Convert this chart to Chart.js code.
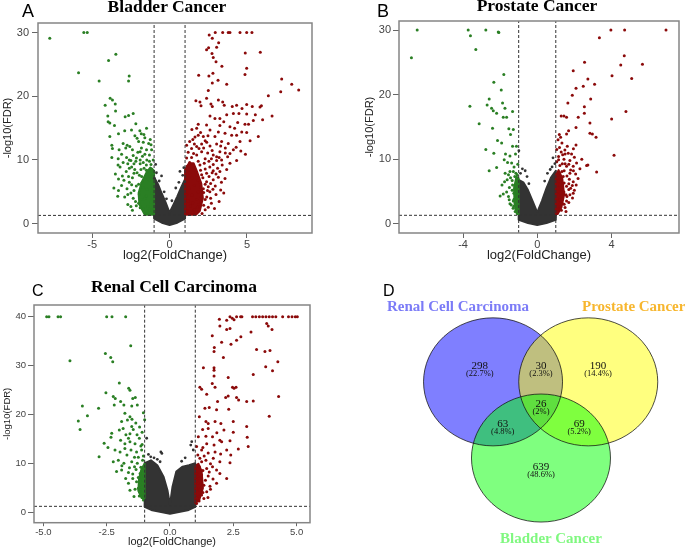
<!DOCTYPE html>
<html>
<head>
<meta charset="utf-8">
<script src="https://cdn.jsdelivr.net/npm/chart.js@4.4.1/dist/chart.umd.min.js"></script>
<style>
  body { margin: 0; width: 685px; height: 547px; position: relative; overflow: hidden; background: #fff; }
  canvas { position: absolute; }
  .letter { position: absolute; line-height: 1; font-family: 'Liberation Sans', Arial, sans-serif; color: #000; }
  .title { position: absolute; line-height: 1; font-family: 'Liberation Serif', 'Times New Roman', serif; font-weight: bold; white-space: nowrap; }
  .center { width: 200px; text-align: center; }
</style>
</head>
<body>
<canvas id="chartA" width="340" height="270" style="left:0;top:0"></canvas>
<canvas id="chartB" width="345" height="270" style="left:340px;top:0"></canvas>
<canvas id="chartC" width="340" height="280" style="left:0;top:270px"></canvas>
<canvas id="chartD" width="325" height="277" style="left:360px;top:270px"></canvas>

<div class="letter" style="left:22px;top:2px;font-size:18px">A</div>
<div class="letter" style="left:377px;top:2px;font-size:18px">B</div>
<div class="letter" style="left:32px;top:283px;font-size:16px">C</div>
<div class="letter" style="left:383px;top:283px;font-size:16px">D</div>

<div class="title center" style="left:67px;top:-2px;font-size:17.5px">Bladder Cancer</div>
<div class="title center" style="left:437px;top:-3px;font-size:17.5px">Prostate Cancer</div>
<div class="title center" style="left:74px;top:278px;font-size:17.5px">Renal Cell Carcinoma</div>

<div class="title center" style="left:358px;top:299px;font-size:15px;color:#7b7bf7">Renal Cell Carcinoma</div>
<div class="title" style="left:582px;top:299px;font-size:15px;color:#f7b62e">Prostate Cancer</div>
<div class="title center" style="left:451px;top:531px;font-size:15px;color:#80f880">Bladder Cancer</div>

<script>
// cut-offs: |log2FC| > 1 and FDR < 0.05
const fcCut = [-1, 1];
const fdrCut = 1.3;

// ---- A: bladder cancer ----
const bladderUp = [
  [2.56,29.6],[2.95,30],[3.43,30],[3.79,30],[3.9,30],[4.55,30],[4.98,30],[5.32,30],
  [2.76,29.1],[3.17,28.4],[2.52,27.6],[3.04,27.7],[2.74,26.7],[2.82,26.1],[2.39,27.3],[4.89,26.8],[5.86,26.9],
  [3.0,25.4],[3.38,24.7],[4.98,24.4],[2.8,23.6],[1.88,23.3],[2.54,23.2],[3.13,22.5],[2.76,22.1],[3.69,21.9],[4.87,23.4],
  [7.24,22.7],[7.89,21.9],[8.34,21.0],[7.18,20.7],[6.38,20.1],[2.5,20.9],[2.39,19.7],[1.7,19.3],[1.96,19.1],[3.15,19.4],[3.43,19.1],
  [2.03,18.5],[2.67,18.8],[2.76,18.4],[3.53,18.6],[4.05,18.4],[4.33,18.6],[4.68,18.1],[4.98,18.7],[5.34,18.4],[5.84,18.3],[5.93,18.5],[6.62,16.9],
  [2.61,16.9],[2.93,16.5],[3.25,16.5],[3.69,17.1],[4.12,17.3],[4.48,17.3],[4.98,17.2],[5.54,17.1],
  [6.01,16.3],[5.41,16.2],[4.87,15.6],[4.4,15.9],[3.9,15.2],[3.25,15.4],[2.61,14.7],[2.39,15.5],[1.85,15.6],[1.75,15.0],[1.44,14.8],
  [4.98,14.3],[4.66,14.4],[4.33,13.9],[4.01,13.9],[3.58,14.2],[3.15,14.4],[2.93,13.7],[2.48,13.8],[2.18,13.7],[1.85,13.9],[1.64,13.6],[5.73,13.7],
  [4.55,12.9],[3.79,12.6],[3.36,12.9],[3.04,12.5],[2.61,12.2],[2.07,12.5],[1.75,12.1],[1.42,11.8],
  [4.12,11.6],[3.9,11.0],[3.6,11.1],[3.25,11.3],[3.04,10.5],[2.82,10.8],[2.46,11.1],[2.07,11.3],[1.75,10.8],[1.42,10.4],[1.1,10.3],
  [4.33,9.9],[3.36,10.0],[3.04,9.9],[2.82,9.3],[2.54,9.8],[2.24,9.5],[1.96,9.2],[1.53,9.0],
  [3.69,8.5],[3.25,8.2],[2.82,8.3],[2.39,7.9],[2.07,7.7],[1.75,7.7],
  [3.58,7.1],[3.15,7.3],[2.82,6.9],[2.39,6.6],[1.96,6.5],
  [2.18,5.5],[2.6,5.0],[3.0,4.6],[2.4,4.2],[2.0,3.5],[2.7,3.2],[1.8,2.6],[2.3,2.2],[1.5,1.8],[2.1,1.6],
  [1.3,12.9],[1.6,12.5],[1.2,11.2],[1.9,11.8],[2.3,10.2],[1.3,9.6],[2.6,8.9],[2.0,8.4],[3.4,9.2],[3.9,9.5],[2.95,5.9],[3.3,5.3],[2.5,5.8],
  [1.15,2.0],[1.35,2.8],[1.6,2.2],[1.9,3.0],[2.2,2.9],[2.5,2.6],[2.9,2.4],[1.2,3.6],[1.5,3.3],[1.75,3.8],[2.05,4.2],[2.3,3.8],
  [2.65,4.0],[3.2,3.5],[1.1,4.6],[1.45,4.5],[1.85,5.0],[2.2,4.9],[2.45,5.2],[2.8,5.4],[3.5,4.8],[1.25,5.6],[1.6,6.0],[2.0,5.8],
  [2.3,6.2],[2.65,6.3],[3.35,6.5],[1.1,6.9],[1.45,7.2],[1.85,6.8],[2.15,7.2],[2.55,7.4],[3.0,7.8],[1.3,8.0],[1.6,8.4],[2.3,8.6],
  [2.75,8.0],[3.1,8.7],[1.15,9.0],[1.85,9.8],[2.7,10.2],[3.2,10.4],[1.55,11.0],[2.2,11.9],[2.75,11.5],[3.6,11.9],[1.1,12.3],
  [2.4,12.8],[3.3,12.2],[1.5,13.2],[2.0,14.3],[2.3,13.0],[4.3,12.0],[4.9,10.9],[4.6,11.4],[3.75,10.5],[5.2,13.0],[4.2,15.0],
  [5.1,15.6],[3.5,16.0]
];
const bladderDown = [
  [-7.74,29.1],[-5.54,30],[-5.32,30],[-5.88,23.7],[-4.55,22.4],[-3.47,26.6],[-3.94,25.6],[-2.61,23.2],[-2.65,22.4],
  [-3.84,19.7],[-3.69,19.4],[-4.16,18.6],[-3.51,18.8],[-3.49,17.7],[-3.99,16.9],[-2.35,17.3],[-2.87,16.8],[-2.65,17.0],
  [-3.97,16.0],[-3.86,15.8],[-3.56,15.4],[-2.18,15.7],[-1.49,15.0],[-2.46,14.7],[-1.92,14.6],[-1.83,14.1],[-1.66,14.0],
  [-3.86,13.7],[-2.24,13.8],[-3.73,12.3],[-3.69,11.8],[-3.0,12.6],[-2.74,12.3],[-3.26,11.6],[-2.83,11.9],[-2.57,12.1],
  [-1.82,11.9],[-1.49,11.6],[-1.16,11.6],[-3.73,10.4],[-3.32,10.2],[-2.78,10.4],[-2.35,10.7],[-2.14,10.3],[-1.9,10.0],
  [-1.47,10.0],[-1.06,10.0],[-3.33,9.2],[-3.2,8.9],[-2.7,9.4],[-2.45,8.9],[-2.18,9.8],[-1.9,9.4],[-1.5,9.2],[-1.2,9.3],
  [-3.5,7.8],[-3.05,7.5],[-2.8,8.2],[-2.4,7.2],[-2.1,8.0],[-1.8,7.4],[-1.4,8.3],[-3.6,5.6],[-3.1,6.0],[-2.9,4.2],
  [-2.6,6.5],[-2.3,5.2],[-2.0,6.2],[-1.7,5.7],[-1.3,6.8],[-1.1,7.5],[-2.7,3.0],[-2.2,3.5],[-1.9,2.5],[-1.6,3.9],
  [-1.3,2.2],[-1.15,4.8],[-1.5,1.6],[-2.4,2.1],
  [-2.05,11.2],[-1.75,10.6],[-1.3,10.8],[-2.5,9.9],[-1.65,8.7],[-2.25,8.5],[-2.95,6.8],[-2.5,4.8],[-3.3,7.0],
  [-1.95,4.6],[-2.15,2.8],[-3.35,4.3],[-1.35,12.6],[-1.25,13.2],[-1.7,12.8],[-2.0,12.9],[-2.1,13.4],
  [-1.15,2.1],[-1.4,2.7],[-1.7,2.3],[-2.0,3.2],[-2.5,2.7],[-1.2,3.4],[-1.5,4.4],[-1.85,3.8],[-2.35,4.0],[-2.7,4.6],
  [-1.1,5.6],[-1.45,5.4],[-1.8,6.4],[-2.15,5.9],[-2.45,6.1],[-2.75,5.5],[-3.3,5.2],[-1.25,7.4],[-1.6,7.0],[-1.95,7.6],
  [-2.3,7.9],[-2.65,7.4],[-1.15,8.6],[-1.5,8.4],[-1.85,8.5],[-2.6,8.7],[-3.0,9.6],[-1.3,9.8],[-1.7,9.6],[-2.3,9.4],
  [-1.6,10.9],[-1.9,11.3],[-2.4,11.6],[-2.6,10.0],[-3.1,10.9],[-1.2,12.4],[-1.6,13.5],[-2.9,14.6],[-3.3,14.1]
];
const bladderGrey = [
  [-0.52,7.5],[0.67,8.2],[0.99,6.6],[-0.99,7.1],[-0.67,6.7],[-0.85,8.0],[0.85,7.6],[0.4,5.6],
  [-0.35,5.0],[0.6,6.5],[-0.2,3.9],[0.15,3.6],[-0.9,9.3],[0.92,8.8]
];
// dense cores of overlapping points, traced as outlines
const bladderGreyMass = [[-1.0,7.3],[-0.75,6.2],[-0.5,4.7],[-0.25,3.3],[-0.05,2.0],[0,1.7],[0.05,2.0],[0.25,3.0],[0.5,4.3],[0.75,5.7],[1.0,7.0],[1.0,0.8],[0.5,0.15],[0,-0.2],[-0.5,0.15],[-1.0,0.8]];
const bladderDownMass = [[-1.0,1.4],[-1.0,8.3],[-1.25,8.8],[-1.5,8.0],[-1.8,6.5],[-2.0,4.8],[-1.95,3.0],[-1.6,1.4]];
const bladderUpMass = [[1.0,1.4],[1.0,8.5],[1.25,9.5],[1.55,9.5],[1.8,8.0],[2.05,6.3],[2.15,4.0],[1.95,2.0],[1.7,1.4]];

// ---- B: prostate cancer ----
const prostateUp = [
  [3.97,30],[4.71,30],[6.94,30],[3.35,28.8],[4.69,26.0],[5.67,24.7],[4.5,24.6],[2.55,25.0],[4.03,22.9],[5.09,22.5],
  [1.94,23.7],[2.73,22.4],[2.48,21.3],[3.09,21.6],[2.09,21.0],[1.89,19.9],[2.88,19.3],[1.65,18.7],[2.54,18.1],[2.54,17.1],
  [4.78,17.4],[1.29,16.7],[1.44,16.7],[1.58,16.5],[2.21,16.5],[4.01,16.2],[2.84,15.6],[2.09,14.9],[1.69,14.4],[1.58,13.9],
  [1.19,13.8],[1.26,13.4],[2.84,14.0],[2.97,13.9],[3.17,13.4],[2.09,12.2],[4.14,10.6],[1.12,13.0],[1.33,12.5],[1.62,12.0],
  [1.49,11.4],[1.29,11.1],[1.67,10.9],[1.85,10.8],[1.15,10.4],[1.37,10.7],[1.44,10.0],[1.76,9.8],[2.12,9.4],[2.66,9.0],
  [2.73,9.1],[3.2,8.0],[1.22,9.0],[1.58,8.9],[1.94,8.9],[1.33,8.1],[1.76,7.8],[2.07,7.7],[1.08,7.1],[1.4,7.3],[1.73,6.9],
  [1.94,6.5],[1.22,6.0],[1.58,5.8],[1.89,5.9],[1.13,5.0],[1.44,4.9],[1.76,4.5],[1.94,4.7],[1.22,3.7],[1.58,3.5],[1.13,2.7],
  [1.37,3.1],[1.08,2.2],[1.2,11.8],[1.5,9.3],[1.7,5.3],[1.3,4.3],[1.5,2.5],[1.1,3.4],[1.8,8.3],[1.05,9.6],
  [1.1,1.8],[1.3,2.1],[1.55,1.9],[1.25,2.6],[1.45,3.0],[1.7,3.3],[1.05,3.9],[1.35,3.8],[1.6,4.2],[1.9,4.0],[1.05,4.6],
  [1.25,4.7],[1.55,4.5],[2.0,5.2],[1.1,5.5],[1.35,5.3],[1.8,5.5],[1.45,6.3],[1.7,6.2],[2.1,6.0],[1.15,6.6],[1.3,7.0],
  [1.6,7.4],[2.2,7.0],[1.2,7.8],[1.45,8.2],[1.95,8.2],[2.3,8.5],[1.35,9.3],[1.7,9.2],[1.15,9.9],[2.0,10.3],[2.4,10.0],
  [1.5,10.8],[1.05,11.5],[1.95,11.6]
];
const prostateDown = [
  [-6.47,30],[-6.78,25.7],[-3.72,30],[-3.6,29.1],[-2.77,30],[-2.1,29.7],[-2.07,29.6],[-3.31,27.0],[-1.8,23.1],[-2.34,21.9],
  [-1.94,20.7],[-2.59,19.3],[-3.63,18.2],[-2.7,18.4],[-2.46,17.9],[-2.37,17.5],[-1.87,18.7],[-1.74,17.9],[-1.33,17.4],
  [-2.19,17.1],[-1.83,16.5],[-1.65,16.5],[-3.13,15.5],[-2.41,14.8],[-1.53,14.7],[-1.29,14.6],[-1.44,13.8],[-2.14,12.9],
  [-1.92,12.5],[-1.33,12.0],[-1.12,12.0],[-2.77,11.5],[-2.34,10.9],[-1.71,10.8],[-1.47,10.5],[-1.17,10.8],[-1.78,9.9],
  [-1.6,9.5],[-1.38,9.4],[-2.19,8.7],[-2.59,8.2],[-1.73,7.8],[-1.47,8.1],[-1.29,8.1],[-1.15,7.8],[-1.76,6.5],[-1.62,6.8],
  [-1.44,7.1],[-1.21,7.3],[-1.08,7.6],[-1.33,6.0],[-1.19,5.8],[-1.04,6.3],[-1.83,4.6],[-1.65,4.9],[-1.26,4.7],[-1.12,5.3],
  [-1.51,3.7],[-1.29,3.5],[-1.08,4.0],[-1.47,3.1],[-1.26,2.7],[-1.15,2.3],[-1.19,1.9],
  [-1.05,2.0],[-1.3,2.4],[-1.1,3.0],[-1.4,2.9],[-1.25,3.8],[-1.55,4.2],[-1.05,4.5],[-1.35,5.2],[-1.5,5.6],[-1.1,6.7],
  [-1.35,6.7],[-1.55,7.6],[-1.25,8.8],[-1.05,9.2],[-1.9,6.0],[-2.0,4.3]
];
const prostateGrey = [
  [-0.8,8.5],[-0.65,8.2],[-0.9,7.8],[-0.55,7.3],[0.55,7.8],[0.7,8.4],[0.85,10.2],[0.95,9.3],[0.8,8.8],[-0.99,11.3],[-0.45,6.2],[0.4,6.6]
];
const prostateGreyMass = [[-1.0,6.8],[-0.75,6.4],[-0.5,5.2],[-0.25,3.5],[-0.05,2.1],[0,1.8],[0.05,2.1],[0.25,3.5],[0.5,5.5],[0.75,7.2],[1.0,8.2],[1.0,0.6],[0.5,0.1],[0,-0.2],[-0.5,0.1],[-1.0,0.6]];
const prostateDownMass = [[-1.0,1.5],[-1.0,7.0],[-1.12,7.3],[-1.25,5.5],[-1.22,3.0],[-1.1,1.5]];
const prostateUpMass = [[1.0,1.5],[1.0,7.5],[1.15,8.3],[1.35,7.0],[1.45,4.5],[1.3,2.5],[1.1,1.5]];

// ---- C: renal cell carcinoma ----
const renalUp = [
  [2.37,40],[2.46,39.7],[2.63,40],[2.79,40],[2.84,40],[3.26,40],[3.39,40],[3.53,40],[3.66,40],[3.79,40],[3.92,40],[4.05,40],
  [4.18,40],[4.45,40],[4.68,40],[4.82,40],[4.95,40],[5.03,40],
  [1.95,39.5],[2.24,39.3],[2.53,39.4],[1.97,38.1],[2.24,37.4],[2.37,37.6],[3.82,38.6],[3.88,38.1],[4.03,37.4],[3.2,36.9],
  [2.8,35.9],[2.63,35.2],[1.67,36.1],[2.04,34.8],[2.41,34.4],[1.75,33.7],[1.74,32.9],[3.42,33.3],[3.75,32.9],[3.95,33.1],
  [2.11,31.7],[4.26,30.8],[1.32,29.6],[1.74,29.6],[1.74,29.1],[3.78,29.8],[4.05,29.0],[3.29,28.2],[1.74,27.9],[2.3,27.6],
  [1.18,25.6],[1.25,25.2],[1.67,26.4],[1.78,25.6],[2.47,25.6],[2.53,25.4],[2.61,25.6],[1.45,24.2],[2.2,23.5],[2.3,23.8],
  [2.63,23.5],[2.71,23.0],[1.88,22.7],[3.03,22.7],[3.29,22.8],[4.29,23.7],[2.32,21.1],[1.38,21.3],[1.55,21.5],[1.84,21.0],
  [3.92,19.7],[1.16,19.6],[1.42,18.6],[1.51,18.2],[1.78,18.6],[2.01,18.2],[2.5,18.6],[3.03,17.6],[1.29,17.0],[1.51,17.2],
  [2.13,16.9],[1.12,15.5],[1.42,15.6],[1.68,15.5],[1.97,14.8],[2.37,14.7],[3.05,15.4],[1.45,14.1],[1.74,13.8],[2.04,14.5],
  [3.09,13.5],[1.25,12.8],[1.51,12.2],[1.78,12.4],[2.24,12.8],[1.18,11.1],[1.42,10.7],[1.71,11.1],[1.97,10.4],[2.37,10.2],
  [1.16,9.4],[1.45,9.0],[1.68,9.4],[1.84,8.7],[1.05,8.0],[1.25,7.7],[1.51,7.5],[1.97,8.0],[2.24,7.0],[1.12,6.0],[1.34,5.6],
  [1.58,5.4],[1.84,6.0],[1.18,4.6],[1.45,4.3],[1.12,3.3],[1.34,2.9],[1.05,1.9],
  [1.05,3.0],[1.25,3.6],[1.15,2.4],[1.5,3.1],[1.3,4.1],[1.05,4.9],[1.6,4.8],[1.25,5.2],[1.05,6.8],[1.4,6.6],[1.7,6.9],
  [1.1,7.4],[1.3,8.6],[1.55,8.3],[1.05,9.6],[1.25,10.4],[1.6,10.0],[1.1,11.8],[1.35,11.6],[2.0,12.0],[1.05,13.5],[1.3,13.3],
  [2.4,11.8],[2.7,13.0],[1.85,16.3],[2.5,16.4]
];
const renalDown = [
  [-4.87,40],[-4.78,40],[-4.42,40],[-4.32,40],[-2.5,40],[-2.29,40],[-1.75,40],[-1.55,34.1],[-2.55,32.5],[-2.34,31.7],
  [-2.26,30.8],[-3.95,31.0],[-2.0,26.5],[-1.63,25.4],[-1.58,25.0],[-2.53,24.5],[-2.24,23.7],[-2.16,23.3],[-1.47,23.3],
  [-1.37,23.5],[-3.46,21.8],[-2.82,21.3],[-1.95,22.7],[-1.82,22.0],[-1.51,21.8],[-1.29,22.0],[-2.2,22.0],[-3.62,18.7],
  [-3.26,19.8],[-3.55,17.0],[-1.05,20.4],[-1.78,20.3],[-1.58,19.6],[-1.91,18.6],[-1.68,18.9],[-1.5,19.1],[-1.51,17.6],
  [-1.45,17.0],[-1.74,15.9],[-1.64,15.2],[-1.58,16.1],[-2.3,16.2],[-2.33,15.4],[-1.95,14.8],[-1.78,14.1],[-1.58,14.5],
  [-1.38,14.1],[-1.21,15.2],[-2.17,12.8],[-1.97,12.4],[-1.78,13.1],[-1.54,12.8],[-1.32,12.4],[-1.12,12.8],[-2.24,10.4],
  [-2.04,10.7],[-1.82,10.1],[-1.51,10.4],[-1.29,10.1],[-1.08,10.7],[-2.11,8.4],[-1.91,8.7],[-1.64,8.2],[-1.47,7.9],
  [-1.34,8.8],[-1.18,8.0],[-1.05,8.7],[-1.64,6.0],[-1.47,7.0],[-1.32,6.3],[-1.18,5.6],[-1.08,6.7],[-1.58,4.6],[-1.38,4.8],
  [-1.21,4.3],[-1.08,4.6],[-1.42,3.3],[-1.21,3.4],[-1.05,2.6],
  [-1.2,17.5],[-1.1,16.4],[-1.35,18.3],[-1.15,13.6],[-1.4,11.3],[-1.7,11.8],[-2.45,13.3],[-1.0,19.0],
  [-1.05,3.5],[-1.1,5.2],[-1.25,5.0],[-1.05,7.5],[-1.25,7.2],[-1.15,9.3],[-1.4,9.4],[-1.05,11.6],[-1.25,11.3],[-1.6,9.2],
  [-1.75,7.0],[-1.9,9.6],[-1.1,13.9],[-1.3,15.9],[-2.6,14.2],[-2.0,16.9],[-2.8,11.4],[-1.85,17.2]
];
const renalGrey = [
  [-0.92,15.2],[-0.36,12.4],[-0.32,12.1],[-0.76,11.4],[-0.63,11.2],[-0.5,10.9],[-0.39,10.4],[0.46,10.5],[0.82,13.8],
  [0.86,14.5],[0.92,12.8],[0.6,11.2],[-0.85,11.9]
];
const renalGreyMass = [[-1.0,10.1],[-0.75,10.7],[-0.5,9.7],[-0.25,7.3],[-0.1,4.6],[0,1.6],[0.1,5.3],[0.25,8.4],[0.5,9.4],[0.75,9.7],[1.0,10.1],[1.0,1.2],[0.7,0.5],[0,-0.2],[-0.7,0.5],[-1.0,1.2]];
const renalDownMass = [[-1.0,3.0],[-1.0,10.0],[-1.12,9.0],[-1.22,7.0],[-1.25,4.5],[-1.12,3.0]];
const renalUpMass = [[1.0,2.0],[1.0,9.5],[1.12,10.0],[1.25,8.5],[1.3,5.0],[1.15,2.5]];

// ---- D: Venn diagram ----
const vennSets = ['Renal Cell Carcinoma', 'Prostate Cancer', 'Bladder Cancer'];
const vennRegions = ['Renal only', 'Renal & Prostate', 'Prostate only', 'Renal & Bladder', 'All three', 'Prostate & Bladder', 'Bladder only'];
const vennCounts = [298, 30, 190, 63, 26, 69, 639];
const vennPercent = ['22.7%', '2.3%', '14.4%', '4.8%', '2%', '5.2%', '48.6%'];

// layout of the Venn (unit radius circles)
const vennCenterX = [-0.69, 0.68, 0];
const vennCenterY = [1.19, 1.19, 0];
const vennRadius = [1, 1, 1];
const vennLabelX = [-0.88, 0, 0.82, -0.55, 0, 0.55, 0];
const vennLabelY = [1.44, 1.44, 1.44, 0.53, 0.84, 0.53, -0.14];
const vennFill = ['rgba(0,0,255,0.5)', 'rgba(255,255,0,0.5)', 'rgba(0,255,0,0.5)'];

const RED = '#8b0a0a', GREEN = '#2a7f24', GREY = '#333333';
const SANS = "'Liberation Sans', Arial, sans-serif";
const SERIF = "'Liberation Serif', 'Times New Roman', serif";
const toXY = arr => arr.map(([x, y]) => ({x, y}));

// fills the dense point masses and draws the plot box
function massPlugin(masses) {
  return {
    id: 'masses',
    beforeDatasetsDraw(chart) {
      const {ctx, chartArea: a, scales: {x, y}} = chart;
      ctx.save();
      ctx.beginPath();
      ctx.rect(a.left, a.top, a.width, a.height);
      ctx.clip();
      masses.forEach(m => {
        ctx.beginPath();
        m.pts.forEach(([vx, vy], i) => {
          const px = x.getPixelForValue(vx), py = y.getPixelForValue(vy);
          i ? ctx.lineTo(px, py) : ctx.moveTo(px, py);
        });
        ctx.closePath();
        ctx.fillStyle = m.color;
        ctx.strokeStyle = m.color;
        ctx.lineWidth = 2;
        ctx.lineJoin = 'round';
        ctx.fill();
        ctx.stroke();
      });
      ctx.restore();
    },
    afterDraw(chart) {
      const {ctx, chartArea: a} = chart;
      ctx.save();
      ctx.strokeStyle = '#858585';
      ctx.lineWidth = 1.5;
      ctx.strokeRect(a.left, a.top, a.width, a.height);
      ctx.restore();
    }
  };
}

function volcano(id, c) {
  const dashed = data => ({
    data, showLine: true, borderColor: '#333', borderWidth: 1, borderDash: [3, 2],
    pointRadius: 0, order: 0
  });
  const dots = (data, color, order, r) => ({
    data: toXY(data), backgroundColor: color, borderColor: color,
    pointRadius: r, pointBorderWidth: 0, order
  });
  new Chart(document.getElementById(id), {
    type: 'scatter',
    data: {
      datasets: [
        dashed([{x: fcCut[0], y: c.yMin}, {x: fcCut[0], y: c.yMax}]),
        dashed([{x: fcCut[1], y: c.yMin}, {x: fcCut[1], y: c.yMax}]),
        dashed([{x: c.xMin, y: fdrCut}, {x: c.xMax, y: fdrCut}]),
        dots(c.up, RED, 1, 1.5),
        dots(c.down, GREEN, 1, 1.5),
        dots(c.grey, GREY, 2, 1.4)
      ]
    },
    options: {
      responsive: false,
      animation: false,
      events: [],
      layout: {padding: {left: 0, top: c.padTop, right: c.padRight, bottom: 0}},
      plugins: {legend: {display: false}, tooltip: {enabled: false}},
      scales: {
        x: {
          min: c.xMin, max: c.xMax,
          afterFit: s => { s.height = c.xAxisH; },
          border: {display: false},
          grid: {drawOnChartArea: false, drawTicks: true, tickLength: c.xTickLen, color: '#666'},
          ticks: {
            stepSize: c.xStep, includeBounds: false, autoSkip: false, maxRotation: 0,
            padding: c.xTickPad, color: '#444', font: {family: SANS, size: c.tickSize},
            callback: v => c.xFmt ? v.toFixed(1) : v
          },
          title: {
            display: true, text: 'log2(FoldChange)', color: '#222',
            font: {family: SANS, size: c.xTitleSize}, padding: {top: 0, bottom: c.xTitlePad}
          }
        },
        y: {
          min: c.yMin, max: c.yMax,
          afterFit: s => { s.width = c.yAxisW; },
          border: {display: false},
          grid: {drawOnChartArea: false, drawTicks: true, tickLength: 6, color: '#666'},
          ticks: {
            stepSize: 10, includeBounds: false, autoSkip: false,
            padding: c.yTickPad, color: '#444', font: {family: SANS, size: c.tickSize}
          },
          title: {
            display: true, text: '-log10(FDR)', color: '#222',
            font: {family: SANS, size: c.yTitleSize}, padding: {top: c.yTitlePad, bottom: 0}
          }
        }
      }
    },
    plugins: [massPlugin([
      {pts: c.greyMass, color: GREY},
      {pts: c.downMass, color: GREEN},
      {pts: c.upMass, color: RED}
    ])]
  });
}

volcano('chartA', {
  up: bladderUp, down: bladderDown, grey: bladderGrey,
  greyMass: bladderGreyMass, downMass: bladderDownMass, upMass: bladderUpMass,
  xMin: -8.5, xMax: 9.2, yMin: -1.46, yMax: 31.5, xStep: 5,
  padTop: 23, padRight: 28, yAxisW: 38, xAxisH: 37,
  tickSize: 11, xTickLen: 5, xTickPad: 0, yTickPad: 3,
  xTitleSize: 13, xTitlePad: 7, yTitleSize: 11, yTitlePad: 1.4
});

volcano('chartB', {
  up: prostateUp, down: prostateDown, grey: prostateGrey,
  greyMass: prostateGreyMass, downMass: prostateDownMass, upMass: prostateUpMass,
  xMin: -7.45, xMax: 7.64, yMin: -1.44, yMax: 31.4, xStep: 4,
  padTop: 21, padRight: 6, yAxisW: 59, xAxisH: 37,
  tickSize: 11, xTickLen: 5, xTickPad: 0, yTickPad: 2,
  xTitleSize: 13, xTitlePad: 7, yTitleSize: 11, yTitlePad: 23.4
});

volcano('chartC', {
  up: renalUp, down: renalDown, grey: renalGrey,
  greyMass: renalGreyMass, downMass: renalDownMass, upMass: renalUpMass,
  xMin: -5.37, xMax: 5.53, yMin: -2.04, yMax: 42.4, xStep: 2.5, xFmt: true,
  padTop: 35, padRight: 30, yAxisW: 34, xAxisH: 27.3,
  tickSize: 9.5, xTickLen: 3.5, xTickPad: 0.4, yTickPad: 2,
  xTitleSize: 11, xTitlePad: 1.7, yTitleSize: 9.5, yTitlePad: 1.6
});

// Venn: circles and region counts placed through the chart scales
const vennPlugin = {
  id: 'venn',
  afterDatasetsDraw(chart) {
    const {ctx, scales: {x, y}} = chart;
    ctx.save();
    const shapes = vennSets.map((s, i) => {
      const cx = x.getPixelForValue(vennCenterX[i]);
      const cy = y.getPixelForValue(vennCenterY[i]);
      const rx = x.getPixelForValue(vennCenterX[i] + vennRadius[i]) - cx;
      const ry = cy - y.getPixelForValue(vennCenterY[i] + vennRadius[i]);
      return {cx, cy, rx, ry};
    });
    shapes.forEach((e, i) => {
      ctx.beginPath();
      ctx.ellipse(e.cx, e.cy, e.rx, e.ry, 0, 0, Math.PI * 2);
      ctx.fillStyle = vennFill[i];
      ctx.fill();
    });
    shapes.forEach(e => {
      ctx.beginPath();
      ctx.ellipse(e.cx, e.cy, e.rx, e.ry, 0, 0, Math.PI * 2);
      ctx.strokeStyle = 'rgba(20,20,20,0.85)';
      ctx.lineWidth = 0.9;
      ctx.stroke();
    });
    ctx.fillStyle = '#111';
    ctx.textAlign = 'center';
    ctx.textBaseline = 'middle';
    vennCounts.forEach((n, i) => {
      const px = x.getPixelForValue(vennLabelX[i]);
      const py = y.getPixelForValue(vennLabelY[i]);
      ctx.font = `11px ${SERIF}`;
      ctx.fillText(String(n), px, py);
      ctx.font = `8.5px ${SERIF}`;
      ctx.fillText(`(${vennPercent[i]})`, px, py + 8);
    });
    ctx.restore();
  }
};

new Chart(document.getElementById('chartD'), {
  type: 'scatter',
  data: {labels: vennRegions, datasets: [{data: [], pointRadius: 0}]},
  options: {
    responsive: false,
    animation: false,
    events: [],
    layout: {padding: 0},
    plugins: {legend: {display: false}, tooltip: {enabled: false}},
    scales: {
      x: {display: false, min: -2.604, max: 2.072},
      y: {display: false, min: -1.39, max: 2.9375}
    }
  },
  plugins: [vennPlugin]
});
</script>
</body>
</html>
